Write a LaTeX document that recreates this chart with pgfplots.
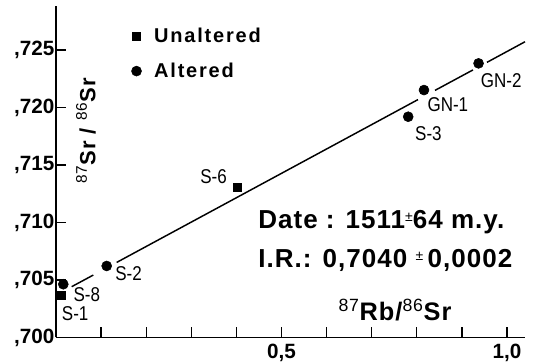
\documentclass[border=0pt]{standalone}
\usepackage{pgfplots}
\pgfplotsset{compat=1.18}
\usepackage{fontspec}
\setmainfont{Liberation Sans}
\newfontfamily\condfont[FakeStretch=0.85]{Liberation Sans}
\newfontfamily\legfont[LetterSpace=9]{Liberation Sans}
\newfontfamily\txtfont[LetterSpace=4]{Liberation Sans}
\newcommand\smallpm{\raisebox{0.45ex}{\fontsize{10.5}{10.5}\selectfont\mdseries ±}}
\begin{document}
\begin{tikzpicture}
\begin{axis}[
  at={(42pt,19.125pt)}, anchor=south west,
  scale only axis, width=351.75pt, height=248.625pt,
  xmin=0, xmax=1.04, ymin=0.7, ymax=0.72883,
  axis lines=left, axis line style={-, line width=1.3pt},
  tick align=inside, major tick length=7.5pt,
  tick style={line width=1pt, black},
  xtick={0.1,0.2,0.3,0.4,0.5,0.6,0.7,0.8,0.9,1.0},
  xticklabels={,,,,{0,5},,,,,{1,0}},
  ytick={0.700,0.705,0.710,0.715,0.720,0.725},
  yticklabels={{,700},{,705},{,710},{,715},{,720},{,725}},
  ticklabel style={font=\fontsize{15.5}{15.5}\selectfont\bfseries},
  yticklabel style={inner sep=0pt, xshift=-1pt},
  xticklabel style={inner sep=0pt, yshift=-5pt},
  clip=false,
  legend style={at={(axis cs:0.158,0.72743)}, anchor=north west, draw=none, fill=none,
    font=\fontsize{15}{15}\selectfont\legfont\bfseries, row sep=10pt, column sep=7.5pt},
  legend cell align=left,
]
% regression line (drawn with gaps around the points)
\addplot[black, line width=1.1pt, forget plot] coordinates {(0.0348,0.70442) (0.0827,0.70543)};
\addplot[black, line width=1.1pt, forget plot] coordinates {(0.1346,0.70653) (0.8027,0.72069)};
\addplot[black, line width=1.1pt, forget plot] coordinates {(0.8404,0.72149) (0.9246,0.72327)};
\addplot[black, line width=1.1pt, forget plot] coordinates {(0.9557,0.72393) (1.04,0.72572)};
% unaltered
\addplot[only marks, mark=square*, mark size=3pt, black] coordinates {
  (0.0126,0.70370) (0.402,0.71306)};
\addlegendentry{Unaltered}
% altered
\addplot[only marks, mark=*, mark size=3.75pt, black] coordinates {
  (0.0162,0.70463) (0.1124,0.70622) (0.781,0.71920) (0.816,0.72152) (0.937,0.72384)};
\addlegendentry{Altered}
% point labels
\begin{scope}[every node/.style={font=\fontsize{15}{15}\selectfont\condfont, anchor=base west, inner sep=0pt}]
\node at (axis cs:0.9417,0.72176) {GN-2};
\node at (axis cs:0.8233,0.71963) {GN-1};
\node at (axis cs:0.7960,0.71717) {S-3};
\node at (axis cs:0.3193,0.71335) {S-6};
\node at (axis cs:0.1308,0.70500) {S-2};
\node at (axis cs:0.0384,0.70311) {S-8};
\node at (axis cs:0.0126,0.70152) {S-1};
\end{scope}
% annotation
\node[anchor=base west, inner sep=0pt, font=\fontsize{19.5}{19.5}\selectfont\txtfont\bfseries]
  at (axis cs:0.4479,0.70952) {Date : 1511\smallpm 64 m.y.};
\node[anchor=base west, inner sep=0pt, font=\fontsize{19.5}{19.5}\selectfont\txtfont\bfseries]
  at (axis cs:0.4479,0.70613) {I.R.: 0,7040 \smallpm\,0,0002};
% axis labels
\node[anchor=base, inner sep=0pt, font=\fontsize{19}{19}\selectfont\txtfont\bfseries]
  at (axis cs:0.7517,0.70152) {\textsuperscript{\mdseries 87}Rb/\textsuperscript{\mdseries 86}Sr};
\node[rotate=90, inner sep=0pt, font=\fontsize{16.5}{16.5}\selectfont\txtfont\bfseries]
  at (axis cs:0.0665,0.71796) {\textsuperscript{\mdseries 87}Sr / \textsuperscript{\mdseries 86}Sr};
\end{axis}
\pgfresetboundingbox
\useasboundingbox (0,0) rectangle (399.75pt,272.25pt);
\end{tikzpicture}
\end{document}
